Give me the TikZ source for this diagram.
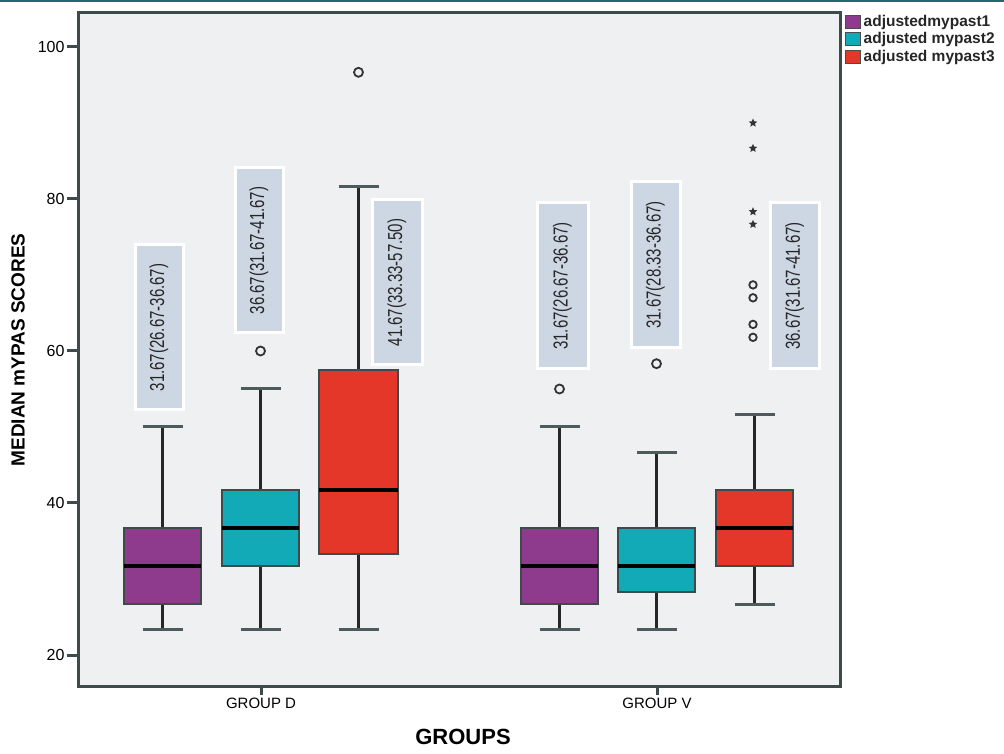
\documentclass[tikz,border=0pt]{standalone}
\usepackage{fontspec}
\setmainfont{Liberation Sans}
\usetikzlibrary{positioning,shapes.geometric}
\definecolor{purp}{HTML}{8E3B8E}
\definecolor{tealc}{HTML}{11AAB6}
\definecolor{redc}{HTML}{E5362A}
\definecolor{lblfill}{HTML}{CDD6E3}
\definecolor{plotbg}{HTML}{EFF0F2}
\definecolor{framegray}{HTML}{3E4B4B}
\definecolor{topline}{HTML}{1F6A6E}
\definecolor{capcol}{HTML}{4E5A5C}
\begin{document}
\begin{tikzpicture}[x=1pt,y=1pt,
  frameline/.style={draw=framegray, line width=3pt},
  bx/.style={draw=framegray, line width=2.2pt},
  med/.style={draw=black, line width=4pt},
  whisk/.style={draw=black!85, line width=3pt},
  capline/.style={draw=capcol, line width=3pt},
  outl/.style={circle, draw=black!80, line width=1.8pt, minimum size=9pt, inner sep=0pt},
  extr/.style={star, star points=5, star point ratio=2.2, fill=black!80, minimum size=9pt, inner sep=0pt},
  lblbox/.style={fill=lblfill, draw=white, line width=3pt},
  lbltext/.style={rotate=90, text=black!85, font=\fontsize{15}{15}\selectfont},
  ticklabel/.style={left, inner sep=1pt, font=\fontsize{16}{16}\selectfont},
  swatch/.style={draw=black!70, line width=1pt, minimum width=15pt, minimum height=13pt, inner sep=0pt},
  legtext/.style={right, inner sep=0pt, text=black!85, font=\bfseries\fontsize{15.5}{15.5}\selectfont}]
\useasboundingbox (0,0) rectangle (1004,753);
\fill[white] (0,0) rectangle (1004,753);
\fill[topline] (0,751) rectangle (1004,753);
% plot area
\draw[frameline, fill=plotbg] (78,67) rectangle (840,740);
% median (IQR) labels
\draw[lblbox] (135,343) rectangle node[lbltext] (lblD1) {\scalebox{1}[1.35]{31.67(26.67-36.67)}} (183,508);
\draw[lblbox] (235,420) rectangle node[lbltext] (lblD2) {\scalebox{1}[1.35]{36.67(31.67-41.67)}} (283,585);
\draw[lblbox] (372,388) rectangle node[lbltext] (lblD3) {\scalebox{1}[1.35]{41.67(33.33-57.50)}} (422,553);
\draw[lblbox] (537,384) rectangle node[lbltext] (lblV1) {\scalebox{1}[1.35]{31.67(26.67-36.67)}} (588,550);
\draw[lblbox] (631,405) rectangle node[lbltext] (lblV2) {\scalebox{1}[1.35]{31.67(28.33-36.67)}} (680,571);
\draw[lblbox] (770,384) rectangle node[lbltext] (lblV3) {\scalebox{1}[1.35]{36.67(31.67-41.67)}} (819,550);
\begin{scope}[y=7.6pt, yshift=-54pt]
% y axis
\draw[frameline] (67,20) -- (78,20) node[ticklabel, at start] {20};
\draw[frameline] (67,40) -- (78,40) node[ticklabel, at start] {40};
\draw[frameline] (67,60) -- (78,60) node[ticklabel, at start] {60};
\draw[frameline] (67,80) -- (78,80) node[ticklabel, at start] {80};
\draw[frameline] (67,100) -- (78,100) node[ticklabel, at start] {100};
% GROUP D, mypast1
\draw[whisk] (162.5,23.33) -- (162.5,26.67);
\draw[whisk] (162.5,36.67) -- (162.5,50);
\draw[capline] (142.5,23.33) -- (182.5,23.33);
\draw[capline] (142.5,50) -- (182.5,50);
\draw[bx, fill=purp] (124,26.67) rectangle (201,36.67);
\draw[med] (124,31.67) -- (201,31.67);
% GROUP D, mypast2
\draw[whisk] (260.5,23.33) -- (260.5,31.67);
\draw[whisk] (260.5,41.67) -- (260.5,55);
\draw[capline] (240.5,23.33) -- (280.5,23.33);
\draw[capline] (240.5,55) -- (280.5,55);
\draw[bx, fill=tealc] (222,31.67) rectangle (299,41.67);
\draw[med] (222,36.67) -- (299,36.67);
\node[outl] (oD2) at (260.5,60) {};
% GROUP D, mypast3
\draw[whisk] (358.5,23.33) -- (358.5,33.33);
\draw[whisk] (358.5,57.5) -- (358.5,81.67);
\draw[capline] (338.5,23.33) -- (378.5,23.33);
\draw[capline] (338.5,81.67) -- (378.5,81.67);
\draw[bx, fill=redc] (319,33.33) rectangle (398,57.5);
\draw[med] (319,41.67) -- (398,41.67);
\node[outl] (oD3) at (358.5,96.67) {};
% GROUP V, mypast1
\draw[whisk] (559.5,23.33) -- (559.5,26.67);
\draw[whisk] (559.5,36.67) -- (559.5,50);
\draw[capline] (539.5,23.33) -- (579.5,23.33);
\draw[capline] (539.5,50) -- (579.5,50);
\draw[bx, fill=purp] (521,26.67) rectangle (598,36.67);
\draw[med] (521,31.67) -- (598,31.67);
\node[outl] (oV1) at (559.5,55) {};
% GROUP V, mypast2
\draw[whisk] (656.5,23.33) -- (656.5,28.33);
\draw[whisk] (656.5,36.67) -- (656.5,46.67);
\draw[capline] (636.5,23.33) -- (676.5,23.33);
\draw[capline] (636.5,46.67) -- (676.5,46.67);
\draw[bx, fill=tealc] (618,28.33) rectangle (695,36.67);
\draw[med] (618,31.67) -- (695,31.67);
\node[outl] (oV2) at (656.5,58.33) {};
% GROUP V, mypast3
\draw[whisk] (754.5,26.67) -- (754.5,31.67);
\draw[whisk] (754.5,41.67) -- (754.5,51.67);
\draw[capline] (734.5,26.67) -- (774.5,26.67);
\draw[capline] (734.5,51.67) -- (774.5,51.67);
\draw[bx, fill=redc] (716,31.67) rectangle (793,41.67);
\draw[med] (716,36.67) -- (793,36.67);
\node[outl, minimum size=7.5pt] (oV3a) at (753,61.8) {};
\node[outl, minimum size=7.5pt] (oV3b) at (753,63.5) {};
\node[outl, minimum size=7.5pt] (oV3c) at (753,67) {};
\node[outl, minimum size=7.5pt] (oV3d) at (753,68.7) {};
\node[extr] (eV3a) at (753,76.67) {};
\node[extr] (eV3b) at (753,78.33) {};
\node[extr] (eV3c) at (753,86.67) {};
\node[extr] (eV3d) at (753,90) {};
\end{scope}
% x axis
\draw[frameline] (261,67) -- (261,58) node[below, inner sep=2pt, font=\fontsize{15}{15}\selectfont] (gD) {GROUP D};
\draw[frameline] (657,67) -- (657,58) node[below, inner sep=2pt, font=\fontsize{15}{15}\selectfont] (gV) {GROUP V};
\node[font=\bfseries\fontsize{22}{22}\selectfont] (xtitle) at (463,16) {GROUPS};
\node[rotate=90, font=\bfseries\fontsize{19}{19}\selectfont] (ytitle) at (18,403) {MEDIAN mYPAS SCORES};
% legend
\node[swatch, fill=purp] (legP) at (852.5,731) {};
\node[swatch, fill=tealc] (legT) at (852.5,713.5) {};
\node[swatch, fill=redc] (legR) at (852.5,696) {};
\node[legtext, right=3pt of legP] (legPt) {adjustedmypast1};
\node[legtext, right=3pt of legT] (legTt) {adjusted mypast2};
\node[legtext, right=3pt of legR] (legRt) {adjusted mypast3};
\end{tikzpicture}
\end{document}
